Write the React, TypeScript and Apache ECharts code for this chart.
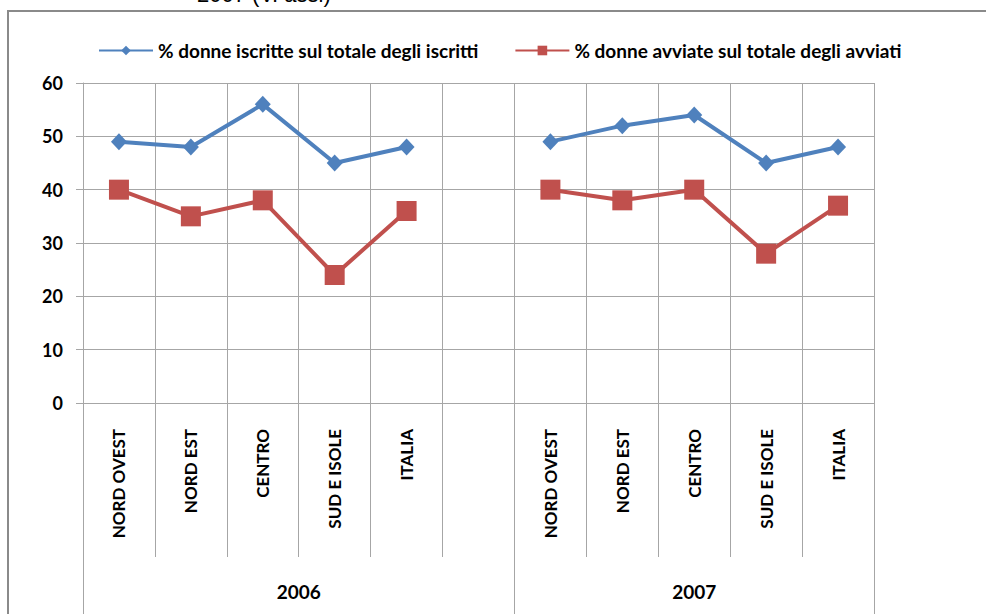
import React, { useEffect, useRef } from "react";
import * as echarts from "echarts";

const regions = ["NORD OVEST", "NORD EST", "CENTRO", "SUD E ISOLE", "ITALIA"];
const years = ["2006", "2007"];
const iscritte2006 = [49, 48, 56, 45, 48];
const iscritte2007 = [49, 52, 54, 45, 48];
const avviate2006 = [40, 35, 38, 24, 36];
const avviate2007 = [40, 38, 40, 28, 37];
const seriesNames = [
  "% donne iscritte sul totale degli iscritti",
  "% donne avviate sul totale degli avviati",
];
const yTicks = [0, 10, 20, 30, 40, 50, 60];

const FONT = "Lato";
const GRID_COLOR = "#a6a6a6";

export default function App() {
  const ref = useRef<HTMLDivElement>(null);
  useEffect(() => {
    if (!ref.current) return;
    const chart = echarts.init(ref.current, null, { renderer: "svg" });

    // categories: 2006 regions + one empty slot, then 2007 regions
    const categories = [...regions, "", ...regions];
    const blue = [...iscritte2006, null, ...iscritte2007];
    const red = [...avviate2006, null, ...avviate2007];
    const g1 = regions.length + 1;
    const total = categories.length;
    const groupBounds = [0, g1, total];
    const groupCenters = [g1 / 2, (g1 + total) / 2];

    chart.setOption({
      animation: false,
      backgroundColor: "#ffffff",
      graphic: [
        {
          type: "rect",
          shape: { x: 8, y: 11, width: 1200, height: 1000 },
          style: { fill: "none", stroke: "#8a8a8a", lineWidth: 2 },
          silent: true,
        },
        {
          type: "text",
          x: 197,
          y: -17,
          style: {
            text: "2007 (V. assi)",
            font: "22px 'Liberation Sans', Arial",
            fill: "#000",
            verticalAlign: "top",
          },
          silent: true,
        },
      ],
      legend: {
        top: 36,
        left: 93,
        itemWidth: 54,
        itemHeight: 12,
        itemGap: 36,
        textStyle: { fontFamily: FONT, fontSize: 19, fontWeight: "bold", color: "#000" },
        data: seriesNames,
      },
      grid: {
        left: 83,
        right: 112,
        top: 83,
        bottom: 211,
        containLabel: false,
        outerBoundsMode: "none",
      },
      xAxis: [
        {
          type: "category",
          data: categories,
          boundaryGap: true,
          axisLine: { show: true, lineStyle: { color: GRID_COLOR, width: 1 } },
          axisTick: {
            show: true,
            interval: 0,
            length: 154,
            lineStyle: { color: GRID_COLOR, width: 1 },
          },
          splitLine: { show: true, interval: 0, lineStyle: { color: GRID_COLOR, width: 1 } },
          axisLabel: {
            interval: 0,
            rotate: 90,
            margin: 26,
            fontFamily: FONT,
            fontSize: 17,
            fontWeight: "bold",
            color: "#000",
          },
        },
        {
          type: "value",
          position: "bottom",
          min: 0,
          max: total,
          axisLine: { show: false },
          splitLine: { show: false },
          axisTick: {
            show: true,
            customValues: groupBounds,
            length: 230,
            lineStyle: { color: GRID_COLOR, width: 1 },
          },
          axisLabel: {
            show: true,
            customValues: groupCenters,
            margin: 179,
            fontFamily: FONT,
            fontSize: 19,
            fontWeight: "bold",
            color: "#000",
            formatter: (v: number) => {
              const i = groupCenters.indexOf(v);
              return i >= 0 ? years[i] : "";
            },
          },
        },
      ],
      yAxis: {
        type: "value",
        min: yTicks[0],
        max: yTicks[yTicks.length - 1],
        interval: 10,
        axisLine: { show: true, lineStyle: { color: GRID_COLOR, width: 1 } },
        axisTick: { show: true, length: 7, lineStyle: { color: GRID_COLOR, width: 1 } },
        splitLine: { show: true, lineStyle: { color: GRID_COLOR, width: 1 } },
        axisLabel: {
          margin: 20,
          fontFamily: FONT,
          fontSize: 18,
          fontWeight: "bold",
          color: "#000",
        },
      },
      series: [
        {
          name: seriesNames[0],
          type: "line",
          xAxisIndex: 0,
          data: blue,
          connectNulls: false,
          symbol: "diamond",
          symbolSize: [16, 17],
          lineStyle: { color: "#4f81bd", width: 4 },
          itemStyle: { color: "#4f81bd" },
        },
        {
          name: seriesNames[1],
          type: "line",
          xAxisIndex: 0,
          data: red,
          connectNulls: false,
          symbol: "rect",
          symbolSize: 20,
          lineStyle: { color: "#c0504d", width: 4 },
          itemStyle: { color: "#c0504d" },
        },
      ],
    });
    return () => chart.dispose();
  }, []);
  return (
    <div
      ref={ref}
      style={{ position: "fixed", left: 0, top: 0, width: 986, height: 614 }}
    />
  );
}
